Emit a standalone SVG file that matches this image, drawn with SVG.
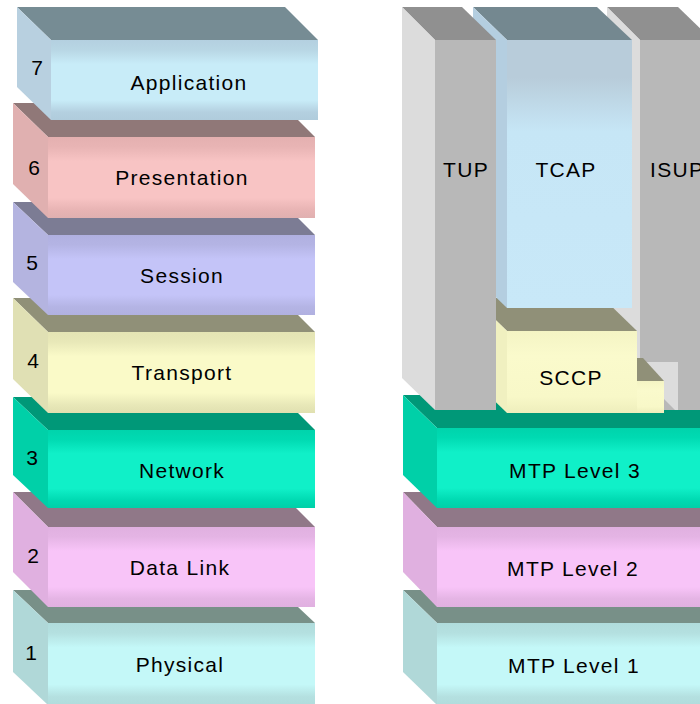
<svg xmlns="http://www.w3.org/2000/svg" width="700" height="704" viewBox="0 0 700 704">
  <defs>
    <linearGradient id="gApp" x1="0" y1="0" x2="0" y2="1">
      <stop offset="0" stop-color="#b4d0e0"/><stop offset="0.12" stop-color="#b8d6e4"/><stop offset="0.3" stop-color="#c8ecf8"/><stop offset="0.75" stop-color="#c8ecf8"/><stop offset="0.9" stop-color="#b4d0e0"/><stop offset="1" stop-color="#b0ccdc"/>
    </linearGradient>
    <linearGradient id="gPre" x1="0" y1="0" x2="0" y2="1">
      <stop offset="0" stop-color="#e4b0b0"/><stop offset="0.12" stop-color="#e8b4b4"/><stop offset="0.3" stop-color="#f8c4c4"/><stop offset="0.75" stop-color="#f8c4c4"/><stop offset="0.9" stop-color="#e8b4b4"/><stop offset="1" stop-color="#e0b0b0"/>
    </linearGradient>
    <linearGradient id="gSes" x1="0" y1="0" x2="0" y2="1">
      <stop offset="0" stop-color="#b0b0e0"/><stop offset="0.12" stop-color="#b4b4e4"/><stop offset="0.3" stop-color="#c4c4f8"/><stop offset="0.75" stop-color="#c4c4f8"/><stop offset="0.9" stop-color="#b4b4e4"/><stop offset="1" stop-color="#b0b0e0"/>
    </linearGradient>
    <linearGradient id="gTra" x1="0" y1="0" x2="0" y2="1">
      <stop offset="0" stop-color="#e4e4b4"/><stop offset="0.12" stop-color="#e8e8b8"/><stop offset="0.3" stop-color="#fafac8"/><stop offset="0.75" stop-color="#fafac8"/><stop offset="0.9" stop-color="#e8e8b8"/><stop offset="1" stop-color="#e0e0b0"/>
    </linearGradient>
    <linearGradient id="gNet" x1="0" y1="0" x2="0" y2="1">
      <stop offset="0" stop-color="#00d4ac"/><stop offset="0.12" stop-color="#00dab2"/><stop offset="0.3" stop-color="#10f0c8"/><stop offset="0.75" stop-color="#10f0c8"/><stop offset="0.9" stop-color="#00dab2"/><stop offset="1" stop-color="#00d0a8"/>
    </linearGradient>
    <linearGradient id="gDat" x1="0" y1="0" x2="0" y2="1">
      <stop offset="0" stop-color="#e0b0e0"/><stop offset="0.12" stop-color="#e4b4e4"/><stop offset="0.3" stop-color="#f8c4f8"/><stop offset="0.75" stop-color="#f8c4f8"/><stop offset="0.9" stop-color="#e4b4e4"/><stop offset="1" stop-color="#e0b0e0"/>
    </linearGradient>
    <linearGradient id="gPhy" x1="0" y1="0" x2="0" y2="1">
      <stop offset="0" stop-color="#b0dcdc"/><stop offset="0.12" stop-color="#b4e0e0"/><stop offset="0.3" stop-color="#c4f8f8"/><stop offset="0.75" stop-color="#c4f8f8"/><stop offset="0.9" stop-color="#b4e0e0"/><stop offset="1" stop-color="#b0dcdc"/>
    </linearGradient>
    <linearGradient id="gTcap" x1="0" y1="0" x2="0" y2="1">
      <stop offset="0" stop-color="#b8ccda"/><stop offset="0.14" stop-color="#b8ccda"/><stop offset="0.34" stop-color="#c6e6f6"/><stop offset="1" stop-color="#c8e8f8"/>
    </linearGradient>
    <linearGradient id="gSccp" x1="0" y1="0" x2="0" y2="1">
      <stop offset="0" stop-color="#f4f4c4"/><stop offset="0.3" stop-color="#fafacc"/><stop offset="0.8" stop-color="#f8f8c8"/><stop offset="1" stop-color="#eeeebc"/>
    </linearGradient>
  </defs>
  <style>
    .lbl { font-family: "Liberation Sans", Arial, sans-serif; font-size: 21px; letter-spacing: 1.3px; fill: #000; text-anchor: middle; }
    .num { font-family: "Liberation Sans", Arial, sans-serif; font-size: 21px; fill: #000; text-anchor: middle; }
    .lbls { font-family: "Liberation Sans", Arial, sans-serif; font-size: 21px; letter-spacing: 1.3px; fill: #000; }
    .grayTop { fill: #909090; }
    .graySide { fill: #dcdcdc; }
    .grayFront { fill: #b8b8b8; }
  </style>
  <rect width="700" height="704" fill="#ffffff"/>

  <!-- OSI stack (left) -->
  <g id="osi-physical">
    <polygon points="13,590 280,590 315,623 48,623" fill="#789088"/>
    <polygon points="13,590 48,623 48,705 13,672" fill="#b0d8d8"/>
    <rect x="48" y="623" width="267" height="82" fill="url(#gPhy)"/>
    <text class="num" x="31" y="660">1</text>
    <text class="lbl" x="180" y="672">Physical</text>
  </g>
  <g id="osi-datalink">
    <polygon points="13,492 280,492 315,527 48,527" fill="#907888"/>
    <polygon points="13,492 48,527 48,607 13,572" fill="#e0b0e0"/>
    <rect x="48" y="527" width="267" height="80" fill="url(#gDat)"/>
    <text class="num" x="33" y="563">2</text>
    <text class="lbl" x="180" y="575">Data Link</text>
  </g>
  <g id="osi-network">
    <polygon points="13,397 282,397 315,430 48,430" fill="#009878"/>
    <polygon points="13,397 48,430 48,508 13,475" fill="#00d0a8"/>
    <rect x="48" y="430" width="267" height="78" fill="url(#gNet)"/>
    <text class="num" x="32" y="465">3</text>
    <text class="lbl" x="182" y="478">Network</text>
  </g>
  <g id="osi-transport">
    <polygon points="13,298 281,298 315,332 48,332" fill="#909078"/>
    <polygon points="13,298 48,332 48,413 13,379" fill="#e0e0b4"/>
    <rect x="48" y="332" width="267" height="81" fill="url(#gTra)"/>
    <text class="num" x="33" y="368">4</text>
    <text class="lbl" x="182" y="380">Transport</text>
  </g>
  <g id="osi-session">
    <polygon points="13,202 282,202 315,235 48,235" fill="#7c7c94"/>
    <polygon points="13,202 48,235 48,315 13,282" fill="#b4b4e0"/>
    <rect x="48" y="235" width="267" height="80" fill="url(#gSes)"/>
    <text class="num" x="32" y="270">5</text>
    <text class="lbl" x="182" y="283">Session</text>
  </g>
  <g id="osi-presentation">
    <polygon points="13,103 281,103 315,137 48,137" fill="#907878"/>
    <polygon points="13,103 48,137 48,218 13,184" fill="#e0b0b0"/>
    <rect x="48" y="137" width="267" height="81" fill="url(#gPre)"/>
    <text class="num" x="34" y="175">6</text>
    <text class="lbl" x="182" y="185">Presentation</text>
  </g>
  <g id="osi-application">
    <polygon points="17,7 285,7 318,40 51,40" fill="#768c94"/>
    <polygon points="17,7 51,40 51,120 17,87" fill="#b8d0e0"/>
    <rect x="51" y="40" width="267" height="80" fill="url(#gApp)"/>
    <text class="num" x="37" y="75">7</text>
    <text class="lbl" x="189" y="90">Application</text>
  </g>

  <!-- SS7 stack (right) -->
  <g id="mtp-level-1">
    <polygon points="403,590 720,590 720,623 437,623" fill="#789088"/>
    <polygon points="403,590 437,623 437,705 403,672" fill="#b0d8d8"/>
    <rect x="437" y="623" width="290" height="82" fill="url(#gPhy)"/>
    <text class="lbl" x="574" y="673">MTP Level 1</text>
  </g>
  <g id="mtp-level-2">
    <polygon points="403,492 720,492 720,527 437,527" fill="#907888"/>
    <polygon points="403,492 437,527 437,607 403,572" fill="#e0b0e0"/>
    <rect x="437" y="527" width="290" height="80" fill="url(#gDat)"/>
    <text class="lbl" x="573" y="576">MTP Level 2</text>
  </g>
  <g id="mtp-level-3">
    <polygon points="403,395 720,395 720,428 437,428" fill="#009878"/>
    <polygon points="403,395 437,428 437,508 403,475" fill="#00d0a8"/>
    <rect x="437" y="428" width="290" height="80" fill="url(#gNet)"/>
    <text class="lbl" x="575" y="478">MTP Level 3</text>
  </g>
  <g id="isup">
    <polygon class="grayTop" points="607,7 678,7 712,40 640,40"/>
    <polygon class="graySide" points="607,7 640,40 640,410 607,377"/>
    <rect class="grayFront" x="640" y="40" width="80" height="370"/>
    <polygon class="graySide" points="646,362 678,362 678,410 675,410 663,398"/>
    <text class="lbls" x="650" y="177">ISUP</text>
  </g>
  <g id="sccp">
    <polygon points="618,358 643,358 664,381 637,381" fill="#909078"/>
    <rect x="637" y="381" width="27" height="32" fill="url(#gSccp)"/>
    <polygon points="473,298 603,298 637,331 507,331" fill="#909078"/>
    <polygon points="473,298 507,331 507,413 473,380" fill="#f0f0c0"/>
    <rect x="507" y="331" width="130" height="82" fill="url(#gSccp)"/>
    <text class="lbl" x="571" y="385">SCCP</text>
  </g>
  <g id="tcap">
    <polygon points="473,7 597,7 632,40 507,40" fill="#748890"/>
    <polygon points="473,7 507,40 507,308 473,275" fill="#b4cee0"/>
    <rect x="507" y="40" width="125" height="268" fill="url(#gTcap)"/>
    <text class="lbl" x="566" y="177">TCAP</text>
  </g>
  <g id="tup">
    <polygon class="grayTop" points="402,7 462,7 496,40 435,40"/>
    <polygon class="graySide" points="402,7 435,40 435,410 402,378"/>
    <rect class="grayFront" x="435" y="40" width="61" height="370"/>
    <text class="lbl" x="466" y="177">TUP</text>
  </g>
  <g id="connectors"/>
</svg>
